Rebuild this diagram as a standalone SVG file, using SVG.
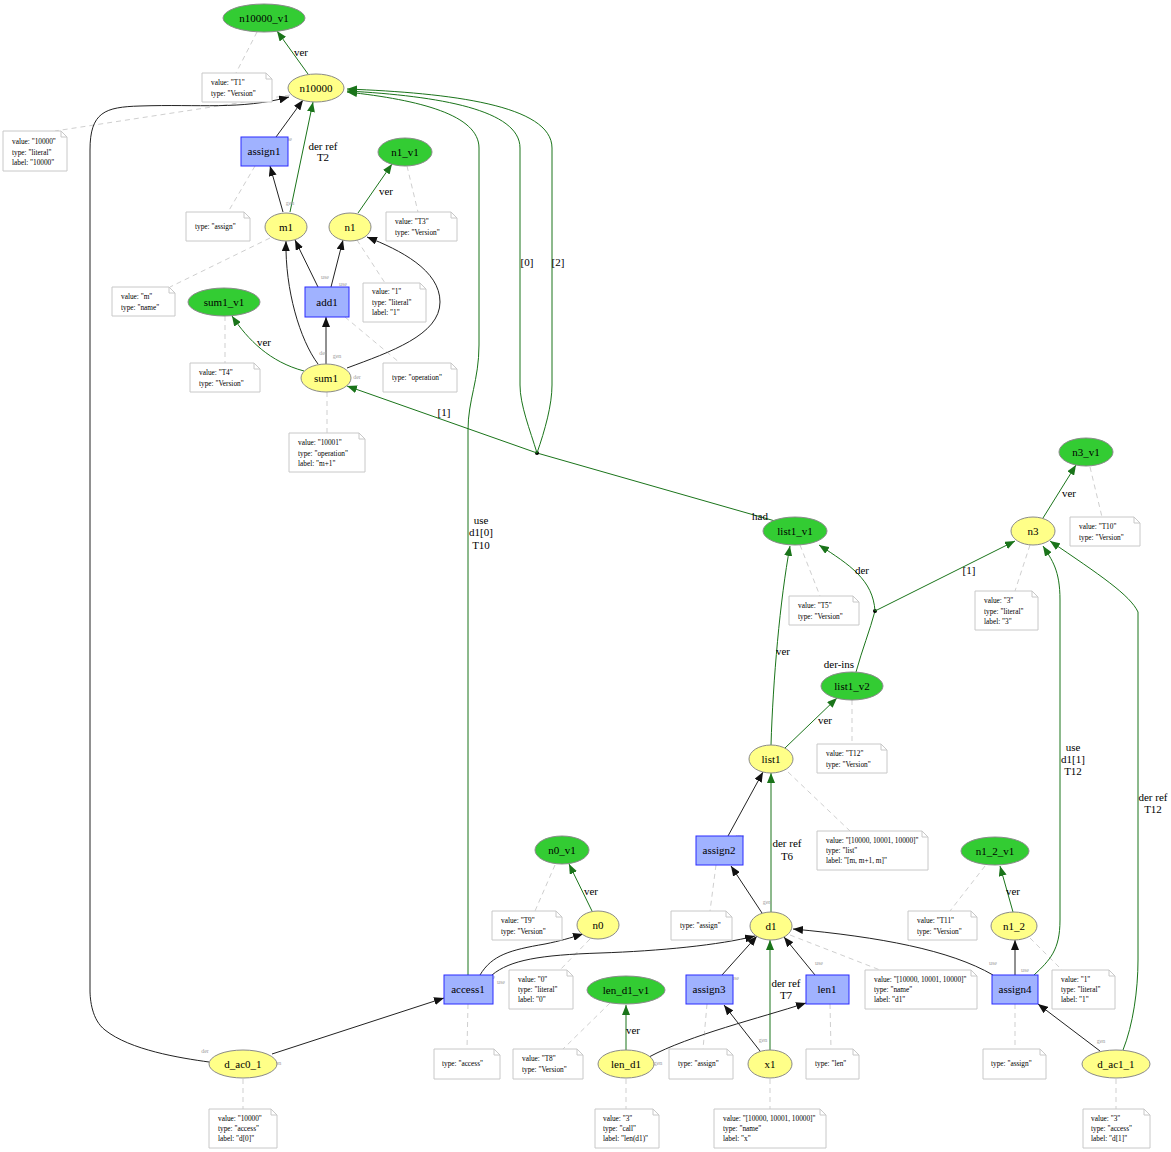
<svg xmlns="http://www.w3.org/2000/svg" width="1171" height="1152" viewBox="0 0 1171 1152">
<style>
.ver{fill:#33cc33;stroke:#8a8a8a;stroke-width:1}
.ent{fill:#ffff88;stroke:#8a8a8a;stroke-width:1}
.act{fill:#a0b2ff;stroke:#2a2aff;stroke-width:1}
.note{fill:#fff;stroke:#c8c8c8;stroke-width:1}
.e{fill:none;stroke:#222;stroke-width:1}
.g{fill:none;stroke:#1a741a;stroke-width:1}
.d{fill:none;stroke:#cfcfcf;stroke-width:1;stroke-dasharray:5,4}
text{font-family:"Liberation Serif",serif;fill:#000}
.n{font-size:11px;text-anchor:middle}
.l{font-size:11px;text-anchor:middle}
.t{font-size:7.3px}
.s{font-size:6px;fill:#a0a0a0;text-anchor:middle}
</style>
<defs>
<marker id="ab" viewBox="0 0 10 8" refX="10" refY="4" markerWidth="10" markerHeight="8" markerUnits="userSpaceOnUse" orient="auto"><path d="M0,0 L10,4 L0,8 Z" fill="#111"/></marker>
<marker id="ag" viewBox="0 0 10 8" refX="10" refY="4" markerWidth="10" markerHeight="8" markerUnits="userSpaceOnUse" orient="auto"><path d="M0,0 L10,4 L0,8 Z" fill="#1a741a"/></marker>
</defs>
<rect width="1171" height="1152" fill="#fff"/>

<g id="connectors">
<!-- dashed note links -->
<path class="d" d="M257,32 L236,73"/>
<path class="d" d="M290,95 L55,131"/>
<path class="d" d="M255,166 L228,212"/>
<path class="d" d="M270,238 L170,287"/>
<path class="d" d="M407,166 L418,212"/>
<path class="d" d="M357,240 L385,283"/>
<path class="d" d="M345,317 L400,363"/>
<path class="d" d="M225,316 L225,363"/>
<path class="d" d="M327,392 L327,433"/>
<path class="d" d="M1090,467 L1102,517"/>
<path class="d" d="M800,545 L820,596"/>
<path class="d" d="M1030,545 L1015,591"/>
<path class="d" d="M852,700 L852,744"/>
<path class="d" d="M788,772 L850,831"/>
<path class="d" d="M555,865 L535,911"/>
<path class="d" d="M716,865 L710,911"/>
<path class="d" d="M985,866 L950,911"/>
<path class="d" d="M590,939 L560,970"/>
<path class="d" d="M790,935 L880,970"/>
<path class="d" d="M1030,938 L1062,970"/>
<path class="d" d="M468,1004 L467,1049"/>
<path class="d" d="M610,1003 L563,1049"/>
<path class="d" d="M707,1004 L703,1049"/>
<path class="d" d="M830,1004 L831,1049"/>
<path class="d" d="M1015,1004 L1015,1049"/>
<path class="d" d="M243,1079 L243,1109"/>
<path class="d" d="M626,1079 L626,1109"/>
<path class="d" d="M770,1079 L770,1109"/>
<path class="d" d="M1116,1079 L1116,1109"/>

<!-- top area -->
<path class="g" marker-end="url(#ag)" d="M308,74 L277,31"/>
<text class="l" x="301" y="56">ver</text>
<path class="e" marker-end="url(#ab)" d="M276,137 L303,100"/>
<path class="e" marker-end="url(#ab)" d="M283,212 L270,166"/>
<path class="g" marker-end="url(#ag)" d="M290,212 L313,102"/>
<text class="l" x="323" y="150">der ref</text>
<text class="l" x="323" y="161">T2</text>
<path class="g" marker-end="url(#ag)" d="M358,213 L392,164"/>
<text class="l" x="386" y="195">ver</text>
<path class="e" marker-end="url(#ab)" d="M318,287 L295,240"/>
<path class="e" marker-end="url(#ab)" d="M331,287 L343,240"/>
<path class="e" marker-end="url(#ab)" d="M318,364 C300,340 285,290 286,241"/>
<path class="e" marker-end="url(#ab)" d="M326,364 L326,317"/>
<path class="e" marker-end="url(#ab)" d="M347,368 C390,352 440,335 440,302 C440,270 400,250 367,237"/>
<path class="g" marker-end="url(#ag)" d="M304,371 C270,362 248,340 232,316"/>
<text class="l" x="264" y="346">ver</text>
<path class="e" marker-end="url(#ab)" d="M209,1062 C180,1058 130,1050 105,1030 C92,1020 90,1000 90,990 L90,150 C90,112 105,107 140,106 C200,104 240,110 289,97"/>

<!-- had hyperedge -->
<path class="g" d="M775,521 L537,453"/>
<text class="l" x="760" y="520">had</text>
<circle cx="537" cy="453" r="2" fill="#000"/>
<path class="g" marker-end="url(#ag)" d="M537,453 L347,386"/>
<text class="l" x="444" y="416">[1]</text>
<path class="g" marker-end="url(#ag)" d="M537,453 C530,430 520,405 520,385 L520,148 C520,110 440,96 347,91"/>
<text class="l" x="527" y="266">[0]</text>
<path class="g" marker-end="url(#ag)" d="M537,453 C545,430 552,405 552,385 L552,148 C552,105 450,93 347,89"/>
<text class="l" x="558" y="266">[2]</text>
<path class="g" marker-end="url(#ag)" d="M468,975 L468,430 C468,400 479,380 479,345 L479,148 C479,115 420,100 347,92"/>
<text class="l" x="481" y="524">use</text>
<text class="l" x="481" y="536">d1[0]</text>
<text class="l" x="481" y="549">T10</text>

<!-- der-ins hyperedge -->
<path class="g" d="M856,672 C862,650 870,630 875,611"/>
<text class="l" x="839" y="668">der-ins</text>
<circle cx="875" cy="611" r="2" fill="#000"/>
<path class="g" marker-end="url(#ag)" d="M875,611 C873,580 850,565 819,545"/>
<text class="l" x="862" y="574">der</text>
<path class="g" marker-end="url(#ag)" d="M875,611 L1015,541"/>
<text class="l" x="969" y="574">[1]</text>

<path class="g" marker-end="url(#ag)" d="M1043,518 L1076,465"/>
<text class="l" x="1069" y="497">ver</text>
<path class="g" marker-end="url(#ag)" d="M771,745 C773,680 780,600 790,546"/>
<text class="l" x="783" y="655">ver</text>
<path class="g" marker-end="url(#ag)" d="M785,748 L837,698"/>
<text class="l" x="825" y="724">ver</text>
<path class="e" marker-end="url(#ab)" d="M728,836 L763,772"/>
<path class="g" marker-end="url(#ag)" d="M771,912 L771,773"/>
<text class="l" x="787" y="847">der ref</text>
<text class="l" x="787" y="860">T6</text>
<path class="e" marker-end="url(#ab)" d="M762,913 L731,866"/>

<path class="g" marker-end="url(#ag)" d="M592,911 L569,864"/>
<text class="l" x="591" y="895">ver</text>
<path class="e" marker-end="url(#ab)" d="M480,975 C492,955 510,950 545,944 C560,941 570,938 583,934"/>
<path class="e" marker-end="url(#ab)" d="M492,975 C510,960 540,955 600,953 C660,951 720,945 755,936"/>
<path class="e" marker-end="url(#ab)" d="M272,1054 L444,998"/>

<path class="e" marker-end="url(#ab)" d="M722,975 L757,936"/>
<path class="e" marker-end="url(#ab)" d="M815,975 L784,937"/>
<path class="g" marker-end="url(#ag)" d="M770,1050 L770,940"/>
<text class="l" x="786" y="987">der ref</text>
<text class="l" x="786" y="999">T7</text>
<path class="e" marker-end="url(#ab)" d="M760,1051 L724,1005"/>
<path class="g" marker-end="url(#ag)" d="M626,1050 L626,1005"/>
<text class="l" x="633" y="1034">ver</text>
<path class="e" marker-end="url(#ab)" d="M649,1057 C690,1035 760,1018 806,1003"/>

<path class="e" marker-end="url(#ab)" d="M993,975 C950,950 880,937 793,929"/>
<path class="e" marker-end="url(#ab)" d="M1015,975 L1015,940"/>
<path class="g" marker-end="url(#ag)" d="M1034,975 C1050,960 1060,950 1060,920 L1060,600 C1060,570 1052,560 1043,546"/>
<text class="l" x="1073" y="751">use</text>
<text class="l" x="1073" y="763">d1[1]</text>
<text class="l" x="1073" y="775">T12</text>
<path class="g" marker-end="url(#ag)" d="M1013,912 L1000,866"/>
<text class="l" x="1013" y="895">ver</text>
<path class="e" marker-end="url(#ab)" d="M1100,1051 L1038,1004"/>
<path class="g" marker-end="url(#ag)" d="M1123,1050 C1133,1025 1138,990 1138,960 L1138,612 C1130,595 1100,575 1050,541"/>
<text class="l" x="1153" y="801">der ref</text>
<text class="l" x="1153" y="813">T12</text>

<!-- tiny role labels -->
<text class="s" x="288" y="141">use</text>
<text class="s" x="290" y="205">gen</text>
<text class="s" x="325" y="279">use</text>
<text class="s" x="343" y="286">use</text>
<text class="s" x="323" y="355">der</text>
<text class="s" x="337" y="358">gen</text>
<text class="s" x="357" y="379">der</text>
<text class="s" x="740" y="838">use</text>
<text class="s" x="767" y="904">gen</text>
<text class="s" x="491" y="979">use</text>
<text class="s" x="501" y="984">use</text>
<text class="s" x="735" y="980">use</text>
<text class="s" x="819" y="965">use</text>
<text class="s" x="763" y="1042">gen</text>
<text class="s" x="658" y="1065">gen</text>
<text class="s" x="205" y="1053">der</text>
<text class="s" x="277" y="1065">gen</text>
<text class="s" x="993" y="965">use</text>
<text class="s" x="1025" y="972">use</text>
<text class="s" x="1101" y="1043">gen</text>
</g>

<!-- nodes -->
<g id="n10000_v1"><ellipse class="ver" cx="264" cy="18" rx="41" ry="14"/><text class="n" x="264" y="22">n10000_v1</text></g>
<g id="n10000"><ellipse class="ent" cx="316" cy="88" rx="28" ry="14"/><text class="n" x="316" y="92">n10000</text></g>
<g id="assign1"><rect class="act" x="241" y="137" width="47" height="29"/><text class="n" x="264" y="155">assign1</text></g>
<g id="m1"><ellipse class="ent" cx="286" cy="227" rx="21" ry="14"/><text class="n" x="286" y="231">m1</text></g>
<g id="n1"><ellipse class="ent" cx="350" cy="227" rx="21" ry="14"/><text class="n" x="350" y="231">n1</text></g>
<g id="n1_v1"><ellipse class="ver" cx="405" cy="152" rx="27" ry="14"/><text class="n" x="405" y="156">n1_v1</text></g>
<g id="sum1_v1"><ellipse class="ver" cx="224" cy="302" rx="36" ry="14"/><text class="n" x="224" y="306">sum1_v1</text></g>
<g id="add1"><rect class="act" x="305" y="287" width="44" height="30"/><text class="n" x="327" y="306">add1</text></g>
<g id="sum1"><ellipse class="ent" cx="326" cy="378" rx="25" ry="14"/><text class="n" x="326" y="382">sum1</text></g>
<g id="list1_v1"><ellipse class="ver" cx="795" cy="531" rx="32" ry="14"/><text class="n" x="795" y="535">list1_v1</text></g>
<g id="n3_v1"><ellipse class="ver" cx="1086" cy="452" rx="27" ry="14"/><text class="n" x="1086" y="456">n3_v1</text></g>
<g id="n3"><ellipse class="ent" cx="1033" cy="531" rx="22" ry="14"/><text class="n" x="1033" y="535">n3</text></g>
<g id="list1_v2"><ellipse class="ver" cx="852" cy="686" rx="31" ry="14"/><text class="n" x="852" y="690">list1_v2</text></g>
<g id="list1"><ellipse class="ent" cx="771" cy="759" rx="22" ry="14"/><text class="n" x="771" y="763">list1</text></g>
<g id="assign2"><rect class="act" x="696" y="836" width="47" height="29"/><text class="n" x="719" y="854">assign2</text></g>
<g id="d1"><ellipse class="ent" cx="771" cy="926" rx="21" ry="14"/><text class="n" x="771" y="930">d1</text></g>
<g id="n0_v1"><ellipse class="ver" cx="562" cy="850" rx="27" ry="14"/><text class="n" x="562" y="854">n0_v1</text></g>
<g id="n0"><ellipse class="ent" cx="598" cy="925" rx="21" ry="14"/><text class="n" x="598" y="929">n0</text></g>
<g id="n1_2_v1"><ellipse class="ver" cx="995" cy="851" rx="34" ry="14"/><text class="n" x="995" y="855">n1_2_v1</text></g>
<g id="n1_2"><ellipse class="ent" cx="1014" cy="926" rx="23" ry="14"/><text class="n" x="1014" y="930">n1_2</text></g>
<g id="access1"><rect class="act" x="444" y="975" width="49" height="29"/><text class="n" x="468" y="993">access1</text></g>
<g id="len_d1_v1"><ellipse class="ver" cx="626" cy="990" rx="39" ry="14"/><text class="n" x="626" y="994">len_d1_v1</text></g>
<g id="assign3"><rect class="act" x="686" y="975" width="47" height="29"/><text class="n" x="709" y="993">assign3</text></g>
<g id="len1"><rect class="act" x="806" y="975" width="43" height="29"/><text class="n" x="827" y="993">len1</text></g>
<g id="assign4"><rect class="act" x="992" y="975" width="46" height="29"/><text class="n" x="1015" y="993">assign4</text></g>
<g id="d_ac0_1"><ellipse class="ent" cx="243" cy="1064" rx="34" ry="14"/><text class="n" x="243" y="1068">d_ac0_1</text></g>
<g id="len_d1"><ellipse class="ent" cx="626" cy="1064" rx="28" ry="14"/><text class="n" x="626" y="1068">len_d1</text></g>
<g id="x1"><ellipse class="ent" cx="770" cy="1064" rx="22" ry="14"/><text class="n" x="770" y="1068">x1</text></g>
<g id="d_ac1_1"><ellipse class="ent" cx="1116" cy="1064" rx="34" ry="14"/><text class="n" x="1116" y="1068">d_ac1_1</text></g>

<!-- notes -->
<g id="note_n10000_v1"><path class="note" d="M202,73 H266 L272,79 V102 H202 Z M266,73 V79 H272"/><text class="t" x="211" y="85">value: "T1"</text><text class="t" x="211" y="96">type:  "Version"</text></g>
<g id="note_n10000"><path class="note" d="M3,131 H61 L67,137 V171 H3 Z M61,131 V137 H67"/><text class="t" x="12" y="144">value: "10000"</text><text class="t" x="12" y="155">type:  "literal"</text><text class="t" x="12" y="165">label: "10000"</text></g>
<g id="note_assign1"><path class="note" d="M186,212 H244 L250,218 V241 H186 Z M244,212 V218 H250"/><text class="t" x="195" y="229">type: "assign"</text></g>
<g id="note_n1_v1"><path class="note" d="M386,212 H451 L457,218 V241 H386 Z M451,212 V218 H457"/><text class="t" x="395" y="224">value: "T3"</text><text class="t" x="395" y="235">type:  "Version"</text></g>
<g id="note_m1"><path class="note" d="M112,287 H169 L175,293 V316 H112 Z M169,287 V293 H175"/><text class="t" x="121" y="299">value: "m"</text><text class="t" x="121" y="310">type:  "name"</text></g>
<g id="note_n1"><path class="note" d="M363,283 H420 L426,289 V322 H363 Z M420,283 V289 H426"/><text class="t" x="372" y="294">value: "1"</text><text class="t" x="372" y="305">type:  "literal"</text><text class="t" x="372" y="315">label: "1"</text></g>
<g id="note_sum1_v1"><path class="note" d="M190,363 H254 L260,369 V392 H190 Z M254,363 V369 H260"/><text class="t" x="199" y="375">value: "T4"</text><text class="t" x="199" y="386">type:  "Version"</text></g>
<g id="note_add1"><path class="note" d="M383,363 H451 L457,369 V392 H383 Z M451,363 V369 H457"/><text class="t" x="392" y="380">type: "operation"</text></g>
<g id="note_sum1"><path class="note" d="M289,433 H359 L365,439 V472 H289 Z M359,433 V439 H365"/><text class="t" x="298" y="445">value: "10001"</text><text class="t" x="298" y="456">type:  "operation"</text><text class="t" x="298" y="466">label: "m+1"</text></g>
<g id="note_n3_v1"><path class="note" d="M1070,517 H1134 L1140,523 V546 H1070 Z M1134,517 V523 H1140"/><text class="t" x="1079" y="529">value: "T10"</text><text class="t" x="1079" y="540">type:  "Version"</text></g>
<g id="note_list1_v1"><path class="note" d="M789,596 H853 L859,602 V625 H789 Z M853,596 V602 H859"/><text class="t" x="798" y="608">value: "T5"</text><text class="t" x="798" y="619">type:  "Version"</text></g>
<g id="note_n3"><path class="note" d="M975,591 H1032 L1038,597 V630 H975 Z M1032,591 V597 H1038"/><text class="t" x="984" y="603">value: "3"</text><text class="t" x="984" y="614">type:  "literal"</text><text class="t" x="984" y="624">label: "3"</text></g>
<g id="note_list1_v2"><path class="note" d="M817,744 H881 L887,750 V773 H817 Z M881,744 V750 H887"/><text class="t" x="826" y="756">value: "T12"</text><text class="t" x="826" y="767">type:  "Version"</text></g>
<g id="note_list1"><path class="note" d="M817,831 H922 L928,837 V870 H817 Z M922,831 V837 H928"/><text class="t" x="826" y="843">value: "[10000, 10001, 10000]"</text><text class="t" x="826" y="853">type:  "list"</text><text class="t" x="826" y="863">label: "[m, m+1, m]"</text></g>
<g id="note_n0_v1"><path class="note" d="M492,911 H556 L562,917 V940 H492 Z M556,911 V917 H562"/><text class="t" x="501" y="923">value: "T9"</text><text class="t" x="501" y="934">type:  "Version"</text></g>
<g id="note_assign2"><path class="note" d="M671,911 H726 L732,917 V940 H671 Z M726,911 V917 H732"/><text class="t" x="680" y="928">type: "assign"</text></g>
<g id="note_n1_2_v1"><path class="note" d="M908,911 H971 L977,917 V940 H908 Z M971,911 V917 H977"/><text class="t" x="917" y="923">value: "T11"</text><text class="t" x="917" y="934">type:  "Version"</text></g>
<g id="note_n0"><path class="note" d="M509,970 H567 L573,976 V1009 H509 Z M567,970 V976 H573"/><text class="t" x="518" y="982">value: "0"</text><text class="t" x="518" y="992">type:  "literal"</text><text class="t" x="518" y="1002">label: "0"</text></g>
<g id="note_d1"><path class="note" d="M865,970 H971 L977,976 V1009 H865 Z M971,970 V976 H977"/><text class="t" x="874" y="982">value: "[10000, 10001, 10000]"</text><text class="t" x="874" y="992">type:  "name"</text><text class="t" x="874" y="1002">label: "d1"</text></g>
<g id="note_n1_2"><path class="note" d="M1052,970 H1109 L1115,976 V1009 H1052 Z M1109,970 V976 H1115"/><text class="t" x="1061" y="982">value: "1"</text><text class="t" x="1061" y="992">type:  "literal"</text><text class="t" x="1061" y="1002">label: "1"</text></g>
<g id="note_access1"><path class="note" d="M434,1049 H494 L500,1055 V1079 H434 Z M494,1049 V1055 H500"/><text class="t" x="442" y="1066">type: "access"</text></g>
<g id="note_len_d1_v1"><path class="note" d="M513,1049 H577 L583,1055 V1079 H513 Z M577,1049 V1055 H583"/><text class="t" x="522" y="1061">value: "T8"</text><text class="t" x="522" y="1072">type:  "Version"</text></g>
<g id="note_assign3"><path class="note" d="M669,1049 H727 L733,1055 V1079 H669 Z M727,1049 V1055 H733"/><text class="t" x="678" y="1066">type: "assign"</text></g>
<g id="note_len1"><path class="note" d="M806,1049 H853 L859,1055 V1079 H806 Z M853,1049 V1055 H859"/><text class="t" x="815" y="1066">type: "len"</text></g>
<g id="note_assign4"><path class="note" d="M983,1049 H1040 L1046,1055 V1079 H983 Z M1040,1049 V1055 H1046"/><text class="t" x="991" y="1066">type: "assign"</text></g>
<g id="note_d_ac0_1"><path class="note" d="M209,1109 H271 L277,1115 V1148 H209 Z M271,1109 V1115 H277"/><text class="t" x="218" y="1121">value: "10000"</text><text class="t" x="218" y="1131">type:  "access"</text><text class="t" x="218" y="1141">label: "d[0]"</text></g>
<g id="note_len_d1"><path class="note" d="M595,1109 H653 L659,1115 V1148 H595 Z M653,1109 V1115 H659"/><text class="t" x="603" y="1121">value: "3"</text><text class="t" x="603" y="1131">type:  "call"</text><text class="t" x="603" y="1141">label: "len(d1)"</text></g>
<g id="note_x1"><path class="note" d="M714,1109 H820 L826,1115 V1148 H714 Z M820,1109 V1115 H826"/><text class="t" x="723" y="1121">value: "[10000, 10001, 10000]"</text><text class="t" x="723" y="1131">type:  "name"</text><text class="t" x="723" y="1141">label: "x"</text></g>
<g id="note_d_ac1_1"><path class="note" d="M1083,1109 H1144 L1150,1115 V1148 H1083 Z M1144,1109 V1115 H1150"/><text class="t" x="1091" y="1121">value: "3"</text><text class="t" x="1091" y="1131">type:  "access"</text><text class="t" x="1091" y="1141">label: "d[1]"</text></g>
</svg>
